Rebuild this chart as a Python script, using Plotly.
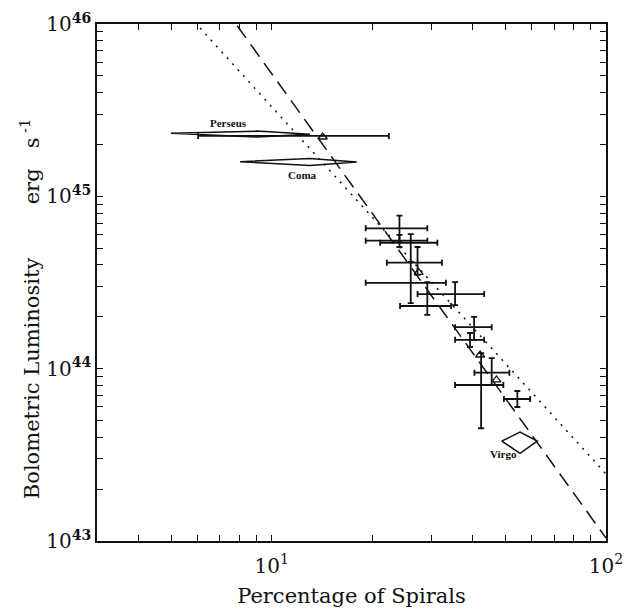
import math
import plotly.graph_objects as go

# ---- data ----
# error-bar crosses: centre, horizontal range, vertical range
spir_pct = [24.1, 24.1, 26.05, 27.3, 26.05, 35.35, 29.2, 40.3, 39.2, 45.5, 42.3, 54.3]
spir_lo = [19.1, 19.1, 21.1, 22.1, 19.1, 27.3, 24.2, 35.35, 35.35, 40.4, 35.35, 49.5]
spir_hi = [29.2, 29.2, 31.3, 32.3, 33.2, 43.2, 34.4, 45.5, 43.2, 51.4, 49.3, 59.3]
lum = [6.52e44, 5.53e44, 5.38e44, 4.12e44, 3.15e44, 2.71e44, 2.31e44, 1.74e44, 1.47e44, 9.48e43, 8.04e43, 6.67e43]
lum_lo = [5.51e44, 5.08e44, 4.16e44, 3.50e44, 2.40e44, 2.34e44, 2.05e44, 1.47e44, 1.336e44, 8.04e43, 4.51e43, 5.99e43]
lum_hi = [7.72e44, 5.97e44, 6.03e44, 5.08e44, 4.16e44, 3.18e44, 3.18e44, 2.00e44, 1.61e44, 1.15e44, 1.23e44, 7.42e43]

# Perseus horizontal bar
perseus_bar_x, perseus_bar_lo, perseus_bar_hi, perseus_bar_y = 14.2, 6.02, 22.4, 2.24e45

# cluster diamonds (closed outlines)
perseus_x = [4.99, 9.02, 13.0, 9.02, 4.99]
perseus_y = [2.32e45, 2.39e45, 2.29e45, 2.21e45, 2.32e45]
coma_x = [8.04, 13.0, 17.96, 13.0, 8.04]
coma_y = [1.59e45, 1.66e45, 1.58e45, 1.51e45, 1.59e45]
virgo_x = [48.75, 55.3, 62.3, 55.3, 48.75]
virgo_y = [3.80e43, 4.28e43, 3.80e43, 3.23e43, 3.80e43]

# small open-triangle markers
tri_x = [14.2, 27.5, 42.0, 47.0]
tri_y = [2.21e45, 3.62e44, 1.20e44, 8.6e43]

# relations
dotted_x = [6.1, 100]
dotted_y = [9.48e45, 2.45e43]
dashed_x = [7.88, 100]
dashed_y = [9.77e45, 1.04e43]

labels = ["Perseus", "Coma", "Virgo"]
label_x = [7.4, 12.4, 49.2]
label_y = [2.67e45, 1.33e45, 3.2e43]

# ticks
x_major = [10, 100]
x_major_text = ["10<sup>1</sup>", "10<sup>2</sup>"]
x_minor = [3, 4, 5, 6, 7, 8, 9, 20, 30, 40, 50, 60, 70, 80, 90]
y_major = [1e43, 1e44, 1e45, 1e46]
y_major_text = ["10<sup><b>43</b></sup>", "10<sup><b>44</b></sup>",
                "10<sup><b>45</b></sup>", "10<sup><b>46</b></sup>"]
y_minor = [float(f"{m}e{e}") for e in (43, 44, 45) for m in range(2, 10)]

x_title = "Percentage of Spirals"
y_title = ("Bolometric Luminosity" + "&nbsp;" * 8 + "erg" + "&nbsp;" * 3
           + "s<sup>&nbsp;-1</sup>")

INK = "#111111"
FONT = "DejaVu Serif"

fig = go.Figure()

fig.add_trace(go.Scatter(x=dotted_x, y=dotted_y, mode="lines",
                         line=dict(color=INK, width=1.5, dash="2px,6px"), showlegend=False))
fig.add_trace(go.Scatter(x=dashed_x, y=dashed_y, mode="lines",
                         line=dict(color=INK, width=1.5, dash="15px,8px"), showlegend=False))

fig.add_trace(go.Scatter(
    x=spir_pct, y=lum, mode="markers", marker=dict(size=1, color=INK), showlegend=False,
    error_x=dict(type="data", symmetric=False,
                 array=[h - c for h, c in zip(spir_hi, spir_pct)],
                 arrayminus=[c - l for l, c in zip(spir_lo, spir_pct)],
                 color=INK, thickness=1.8, width=3),
    error_y=dict(type="data", symmetric=False,
                 array=[h - c for h, c in zip(lum_hi, lum)],
                 arrayminus=[c - l for l, c in zip(lum_lo, lum)],
                 color=INK, thickness=1.8, width=3),
))

fig.add_trace(go.Scatter(
    x=[perseus_bar_x], y=[perseus_bar_y], mode="markers", marker=dict(size=1, color=INK),
    showlegend=False,
    error_x=dict(type="data", symmetric=False, array=[perseus_bar_hi - perseus_bar_x],
                 arrayminus=[perseus_bar_x - perseus_bar_lo], color=INK, thickness=1.8, width=3),
))

for xs, ys in ((perseus_x, perseus_y), (coma_x, coma_y), (virgo_x, virgo_y)):
    fig.add_trace(go.Scatter(x=xs, y=ys, mode="lines", line=dict(color=INK, width=1.5),
                             showlegend=False))

fig.add_trace(go.Scatter(x=tri_x, y=tri_y, mode="markers",
                         marker=dict(symbol="triangle-up-open", size=8, color=INK,
                                     line=dict(width=1.3, color=INK)), showlegend=False))

for t, lx, ly in zip(labels, label_x, label_y):
    fig.add_annotation(x=math.log10(lx), y=math.log10(ly), xref="x", yref="y",
                       text=f"<b>{t}</b>", showarrow=False,
                       font=dict(family="Liberation Serif", size=11, color=INK))

# y-axis title as a rotated annotation (placed slightly below the plot centre, as in the reference)
fig.add_annotation(x=-0.13, y=0.45, xref="paper", yref="paper", text=y_title,
                   textangle=-90, showarrow=False, xanchor="center", yanchor="middle",
                   font=dict(family=FONT, size=21, color=INK))

axis_common = dict(type="log", showgrid=False, zeroline=False, showline=True,
                   linecolor=INK, linewidth=1.6, mirror="ticks", ticks="inside",
                   ticklen=6, tickwidth=1.2, tickcolor=INK, automargin=False,
                   tickfont=dict(family=FONT, size=20, color=INK))

fig.update_xaxes(**axis_common, range=[0.47712, 2],
                 tickmode="array", tickvals=x_major, ticktext=x_major_text,
                 ticklabelstandoff=6,
                 minor=dict(tickmode="array", tickvals=x_minor, ticks="inside", ticklen=6,
                            tickwidth=1.2, tickcolor=INK, showgrid=False),
                 title=dict(text=x_title, font=dict(family=FONT, size=21, color=INK),
                            standoff=12))
fig.update_yaxes(**axis_common, range=[43, 46],
                 tickmode="array", tickvals=y_major, ticktext=y_major_text,
                 minor=dict(tickmode="array", tickvals=y_minor, ticks="inside", ticklen=6,
                            tickwidth=1.2, tickcolor=INK, showgrid=False))

fig.update_layout(width=627, height=612, margin=dict(l=97, r=21, t=24, b=71),
                  plot_bgcolor="white", paper_bgcolor="white")

fig.write_html("out.html")
